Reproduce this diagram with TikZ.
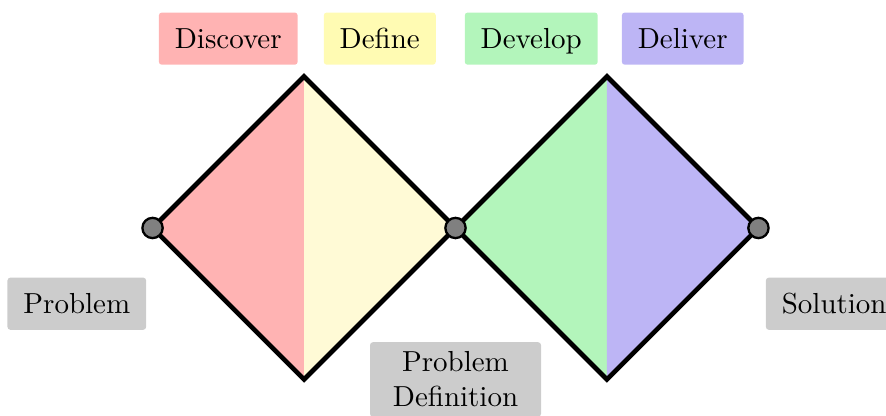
\documentclass[tikz,border=0pt]{standalone}
\definecolor{discoverred}{HTML}{FFB3B3}
\definecolor{defineyellow}{HTML}{FFFBB3}
\definecolor{defineshade}{HTML}{FFFAD6}
\definecolor{developgreen}{HTML}{B3F5BB}
\definecolor{deliverblue}{HTML}{BDB5F5}
\begin{document}
\begin{tikzpicture}[x=1.837cm, y=1.837cm,
        phase/.style={rounded corners=1pt, inner xsep=5.5pt, minimum height=18pt, text height=7pt, text depth=0pt},
        stage/.style={fill=gray!40, rounded corners=1pt, inner xsep=5.5pt, minimum height=18pt, align=center},
        joint/.style={draw, circle, fill=gray, line width=0.8pt, minimum size=7pt, inner sep=0pt}]
        \useasboundingbox (-2.007,-1.241) rectangle (3.842,1.505);
        % Double diamond halves
        \fill[discoverred] (-1,0) -- (0,1) -- (0,-1) -- cycle;
        \fill[defineshade] (0,1) -- (1,0) -- (0,-1) -- cycle;
        \fill[developgreen] (1,0) -- (2,1) -- (2,-1) -- cycle;
        \fill[deliverblue] (2,1) -- (3,0) -- (2,-1) -- cycle;
        \foreach \cx in {0,2} {
            \draw[ultra thick] (\cx-1,0) -- (\cx,1) -- (\cx+1,0) -- (\cx,-1) -- cycle;
        }
        % Joints
        \foreach \x/\name in {-1/start, 1/middle, 3/finish} {
            \node[joint] (\name) at (\x,0) {};
        }
        % Phases
        \foreach \x/\label/\col/\name in {
            -0.5/Discover/discoverred/discover,
            0.5/Define/defineyellow/define,
            1.5/Develop/developgreen/develop,
            2.5/Deliver/deliverblue/deliver
        } {
            \node[phase, fill=\col] (\name) at (\x,1.25) {\label};
        }
        % Stages
        \node[stage] (problem) at (-1.5,-0.5) {Problem};
        \node[stage, minimum width=59pt] (definition) at (1,-1) {Problem\\Definition};
        \node[stage] (solution) at (3.5,-0.5) {Solution};
    \end{tikzpicture}
\end{document}
